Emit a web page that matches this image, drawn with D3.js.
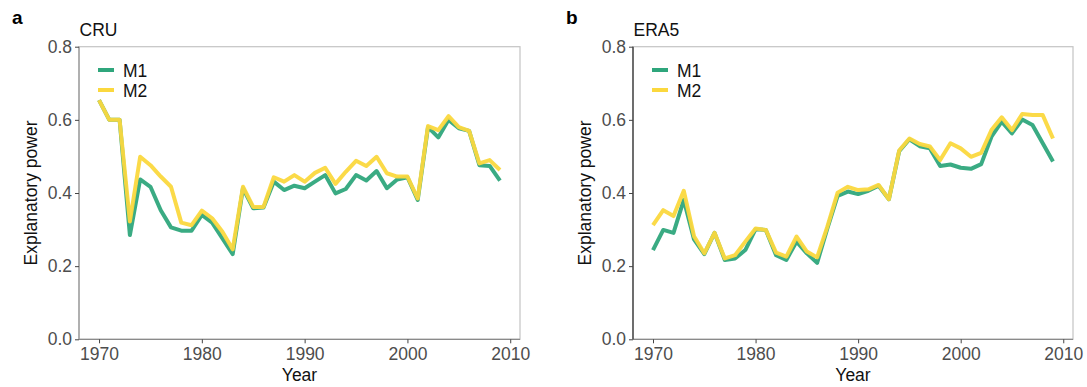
<!DOCTYPE html>
<html>
<head>
<meta charset="utf-8">
<script src="https://cdn.jsdelivr.net/npm/d3@7"></script>
<style>
  html, body { margin: 0; padding: 0; background: #fff; }
  svg { display: block; font-family: "Liberation Sans", Arial, Helvetica, sans-serif; }
</style>
</head>
<body>
<svg id="chart" width="1087" height="387"></svg>
<script>
// Years covered by both panels
const years = d3.range(1970, 2010);

// Explanatory power, CRU panel
const cruM1 = [0.654, 0.600, 0.600, 0.285, 0.437, 0.417, 0.353, 0.306, 0.297, 0.297,
               0.340, 0.319, 0.276, 0.233, 0.413, 0.358, 0.360, 0.431, 0.408, 0.420,
               0.413, 0.431, 0.449, 0.399, 0.411, 0.449, 0.434, 0.460, 0.413, 0.437,
               0.443, 0.381, 0.580, 0.552, 0.600, 0.577, 0.570, 0.476, 0.474, 0.434];
const cruM2 = [0.654, 0.600, 0.600, 0.322, 0.499, 0.476, 0.445, 0.417, 0.319, 0.312,
               0.352, 0.331, 0.294, 0.246, 0.417, 0.362, 0.362, 0.443, 0.431, 0.449,
               0.431, 0.455, 0.469, 0.425, 0.458, 0.488, 0.474, 0.499, 0.454, 0.445,
               0.445, 0.385, 0.583, 0.572, 0.610, 0.580, 0.570, 0.481, 0.490, 0.463];

// Explanatory power, ERA5 panel
const eraM1 = [0.244, 0.299, 0.291, 0.381, 0.273, 0.233, 0.291, 0.217, 0.221, 0.244,
               0.301, 0.299, 0.230, 0.217, 0.267, 0.235, 0.209, 0.303, 0.392, 0.404,
               0.397, 0.406, 0.420, 0.383, 0.514, 0.547, 0.528, 0.522, 0.474, 0.478,
               0.469, 0.466, 0.479, 0.554, 0.595, 0.563, 0.601, 0.586, 0.536, 0.486];
const eraM2 = [0.312, 0.353, 0.337, 0.406, 0.282, 0.235, 0.291, 0.221, 0.230, 0.267,
               0.303, 0.299, 0.237, 0.226, 0.281, 0.240, 0.224, 0.308, 0.401, 0.417,
               0.408, 0.410, 0.422, 0.383, 0.516, 0.549, 0.534, 0.527, 0.490, 0.536,
               0.522, 0.499, 0.510, 0.572, 0.607, 0.572, 0.616, 0.613, 0.613, 0.549];

const xTicks = [1970, 1980, 1990, 2000, 2010];
const yTicks = [0.0, 0.2, 0.4, 0.6, 0.8];
const seriesNames = ["M1", "M2"];
const seriesColors = ["#2fa67c", "#fbd83e"];

const panels = [
  { tag: "a", title: "CRU", left: 79, right: 520, m1: cruM1, m2: cruM2, yAxisColor: "#9a9a9a" },
  { tag: "b", title: "ERA5", left: 633, right: 1073, m1: eraM1, m2: eraM2, yAxisColor: "#333333" }
];

const plotTop = 46.7, plotBottom = 339.3;
const tickFont = 17.5, labelFont = 17.5;
const svg = d3.select("#chart");

panels.forEach(p => {
  const g = svg.append("g");
  const x = d3.scaleLinear().domain([1968.05, 2010.95]).range([p.left, p.right]);
  const y = d3.scaleLinear().domain([0, 0.8]).range([plotBottom, plotTop]);

  // light panel border (top / right)
  g.append("rect")
    .attr("x", p.left).attr("y", plotTop)
    .attr("width", p.right - p.left).attr("height", plotBottom - plotTop)
    .attr("fill", "none").attr("stroke", "#c4c4c4").attr("stroke-width", 1.2);

  // x axis
  const xa = g.append("g").attr("transform", `translate(0,${plotBottom})`)
    .call(d3.axisBottom(x).tickValues(xTicks).tickFormat(d3.format("d")).tickSize(4).tickPadding(4));
  xa.select(".domain").attr("stroke", "#8a8a8a").attr("stroke-width", 1.3)
    .attr("d", `M${p.left},0H${p.right}`);
  xa.selectAll(".tick line").attr("stroke", "#444");
  xa.selectAll(".tick text").attr("fill", "#4d4d4d").attr("font-size", tickFont);

  // y axis
  const ya = g.append("g").attr("transform", `translate(${p.left},0)`)
    .call(d3.axisLeft(y).tickValues(yTicks).tickFormat(d3.format(".1f")).tickSize(4).tickPadding(3));
  ya.select(".domain").attr("stroke", p.yAxisColor).attr("stroke-width", 1.3)
    .attr("d", `M0,${plotTop}V${plotBottom}`);
  ya.selectAll(".tick line").attr("stroke", "#444");
  ya.selectAll(".tick text").attr("fill", "#4d4d4d").attr("font-size", tickFont);

  // series lines
  const line = d3.line().x((d, i) => x(years[i])).y(d => y(d));
  [p.m1, p.m2].forEach((vals, k) => {
    g.append("path").datum(vals)
      .attr("d", line)
      .attr("fill", "none")
      .attr("stroke", seriesColors[k])
      .attr("stroke-width", 4)
      .attr("stroke-linejoin", "round")
      .attr("opacity", 0.95);
  });

  // legend
  seriesNames.forEach((name, k) => {
    const ly = 70 + k * 20;
    g.append("line")
      .attr("x1", p.left + 19).attr("x2", p.left + 35)
      .attr("y1", ly).attr("y2", ly)
      .attr("stroke", seriesColors[k]).attr("stroke-width", 4);
    g.append("text")
      .attr("x", p.left + 44).attr("y", ly + 6.5)
      .attr("font-size", labelFont).attr("fill", "#111")
      .text(name);
  });

  // panel title and tag
  g.append("text").attr("x", p.left + 0.5).attr("y", 35.5)
    .attr("font-size", labelFont).attr("fill", "#111").text(p.title);
  g.append("text").attr("x", p.left - 67).attr("y", 24)
    .attr("font-size", 19).attr("font-weight", "bold").attr("fill", "#000").text(p.tag);

  // axis titles
  g.append("text")
    .attr("transform", `translate(${p.left - 42},${(plotTop + plotBottom) / 2}) rotate(-90)`)
    .attr("text-anchor", "middle").attr("font-size", labelFont).attr("fill", "#111")
    .text("Explanatory power");
  g.append("text")
    .attr("x", (p.left + p.right) / 2).attr("y", 381)
    .attr("text-anchor", "middle").attr("font-size", labelFont).attr("fill", "#111")
    .text("Year");
});
</script>
</body>
</html>
